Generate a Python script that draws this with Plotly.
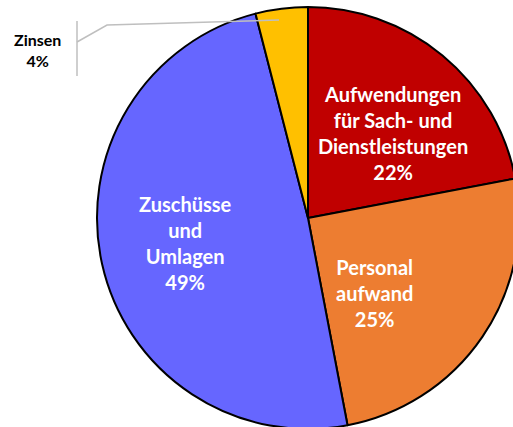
import plotly.graph_objects as go

# ---- data ----
categories = ["Aufwendungen für Sach- und Dienstleistungen", "Personalaufwand",
              "Zuschüsse und Umlagen", "Zinsen"]
label_lines = [["Aufwendungen", "für Sach- und", "Dienstleistungen"],
               ["Personal", "aufwand"],
               ["Zuschüsse", "und", "Umlagen"],
               ["Zinsen"]]
shares = [22, 25, 49, 4]
colors = ["#C00000", "#ED7D31", "#6666FF", "#FFC000"]

# ---- layout helpers (figure slightly larger than window so the pie is clipped like the original) ----
W, H = 530, 440


def px(x):
    return x / W


def py(y):
    return 1 - y / H


fig = go.Figure(go.Pie(
    labels=categories, values=shares, sort=False, direction="clockwise", rotation=0,
    marker=dict(colors=colors, line=dict(color="black", width=2)),
    textinfo="none", hoverinfo="label+percent", showlegend=False,
    domain=dict(x=[px(97), px(519)], y=[py(429), py(7)]),
))

label_pos = [(393, 133), (374, 293), (185, 243), (37, 50)]
font_sizes = [20, 20, 20, 16]
font_colors = ["white", "white", "white", "black"]

annotations = []
for lines, v, (x, y), fs, fc in zip(label_lines, shares, label_pos, font_sizes, font_colors):
    txt = "<br>".join(lines + [f"{v}%"])
    annotations.append(dict(
        x=px(x), y=py(y), xref="paper", yref="paper", text=f"<b>{txt}</b>",
        showarrow=False, xanchor="center", yanchor="middle", align="center",
        font=dict(family="Lato, sans-serif", size=fs, color=fc),
    ))

shapes = [
    dict(type="line", xref="paper", yref="paper", x0=px(77), x1=px(77), y0=py(21), y1=py(76),
         line=dict(color="#BFBFBF", width=1.5)),
    dict(type="path", xref="paper", yref="paper",
         path=f"M {px(77)},{py(42)} L {px(107)},{py(25)} L {px(279)},{py(20)}",
         line=dict(color="#BFBFBF", width=1.5)),
]

fig.update_layout(
    width=W, height=H, margin=dict(l=0, r=0, t=0, b=0),
    paper_bgcolor="white", plot_bgcolor="white",
    annotations=annotations, shapes=shapes,
    font=dict(family="Lato, sans-serif"),
)

fig.write_html("out.html", config={"displayModeBar": False},
               post_script="document.body.style.margin='0';document.body.style.overflow='hidden';")
